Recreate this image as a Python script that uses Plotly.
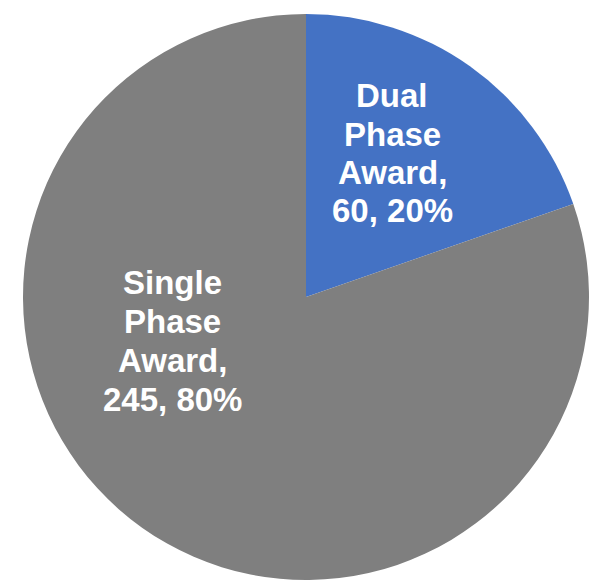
import plotly.graph_objects as go

# Award split data
categories = ["Dual Phase Award", "Single Phase Award"]
counts = [60, 245]
colors = ["#4472C4", "#7F7F7F"]

W, H = 589, 588
total = sum(counts)

fig = go.Figure(
    go.Pie(
        labels=categories,
        values=counts,
        sort=False,
        direction="clockwise",
        rotation=0,
        marker=dict(colors=colors, line=dict(width=0)),
        textinfo="none",
        hoverinfo="label+value+percent",
        domain=dict(x=[23 / W, 1.0], y=[0.0, 1 - 6 / H]),
        showlegend=False,
    )
)

# Data labels: "Name," / value, percent — laid out line by line
label_centers = {
    "Dual Phase Award": (392, [95.7, 134, 172, 210.7]),
    "Single Phase Award": (172, [282, 321, 360.5, 399]),
}
for name, val in zip(categories, counts):
    pct = round(100 * val / total)
    words = name.split(" ")
    lines = [words[0], words[1], words[2] + ",", f"{val}, {pct}%"]
    cx, ys = label_centers[name]
    for line, y in zip(lines, ys):
        fig.add_annotation(
            x=cx / W, y=1 - y / H, xref="paper", yref="paper",
            text=f"<b>{line}</b>", showarrow=False,
            xanchor="center", yanchor="middle",
            font=dict(family="Liberation Sans, Arial, sans-serif", size=33, color="white"),
        )

fig.update_layout(
    width=W, height=H,
    margin=dict(l=0, r=0, t=0, b=0),
    paper_bgcolor="white",
    plot_bgcolor="white",
)

fig.write_html("out.html")
